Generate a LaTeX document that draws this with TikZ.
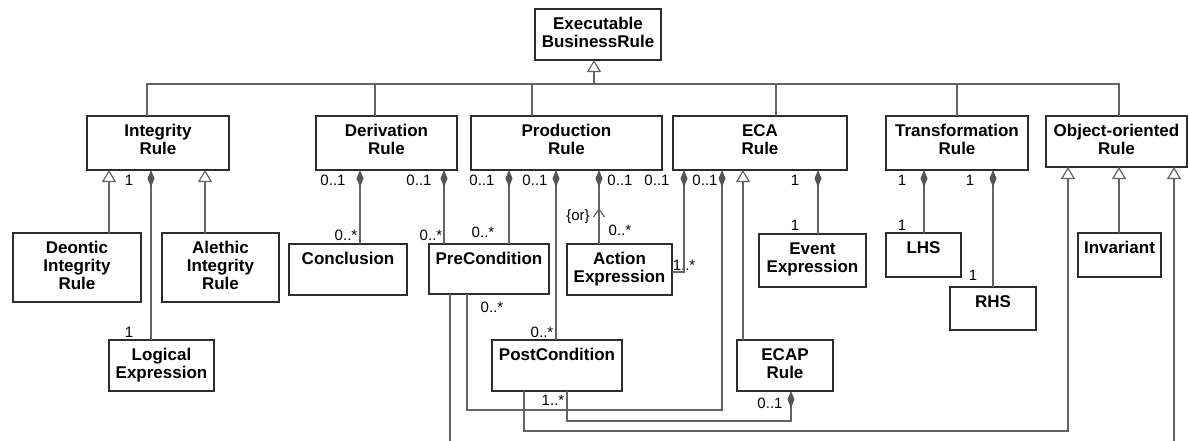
\documentclass[tikz,border=0pt]{standalone}
\usepackage{fontspec}
\setmainfont{Liberation Sans}
\usetikzlibrary{arrows.meta,calc}

\definecolor{edge}{RGB}{45,45,45}
\definecolor{wire}{RGB}{100,100,100}
\definecolor{dia}{RGB}{85,85,85}

\tikzset{
  cls/.style={draw=edge, line width=1.3pt, fill=white, inner sep=0pt, outer sep=0pt, anchor=north west},
  ttl/.style={font=\bfseries\fontsize{17}{18}\selectfont, align=center, anchor=base, inner sep=0pt},
  mult/.style={font=\fontsize{15}{17}\selectfont, anchor=base, inner sep=0pt},
  wire/.style={draw=wire, line width=1.2pt},
  comp/.style={wire, {Diamond[length=17pt,width=7pt,fill=dia,color=dia]}-},
  gen/.style={wire, -{Triangle[open,length=12pt,width=14pt,fill=white]}},
  nav/.style={wire, -{Straight Barb[length=8pt,width=11pt]}},
}

% class box: name, left, top, right, bottom, number of title lines, title
% (the base of a multi-line title is its last line)
\newcommand\umlclass[7]{%
  \node[cls, minimum width={#4-#2}, minimum height={#5-#3}] (#1) at (#2,#3) {};
  \node[ttl] (#1-t) at ($(#1.north)+(0,{2+18*#6})$) {#7};
}

\begin{document}
\begin{tikzpicture}[x=1pt, y=-1pt]
\useasboundingbox (0,0) rectangle (1189,440);
\clip (0,0) rectangle (1189,440);
\fill[white] (0,0) rectangle (1189,440);

% classes
\umlclass{ebr}{535}{9}{661}{60}{2}{Executable\\BusinessRule}
\umlclass{integ}{87}{116}{229}{170}{2}{Integrity\\Rule}
\umlclass{deriv}{316}{116}{457}{170}{2}{Derivation\\Rule}
\umlclass{prod}{471}{116}{662}{170}{2}{Production\\Rule}
\umlclass{eca}{673}{116}{847}{170}{2}{ECA\\Rule}
\umlclass{trans}{886}{116}{1028}{170}{2}{Transformation\\Rule}
\umlclass{oo}{1046}{116}{1187}{167}{2}{Object-oriented\\Rule}
\umlclass{deon}{13}{233}{141}{302}{3}{Deontic\\Integrity\\Rule}
\umlclass{aleth}{162}{233}{279}{302}{3}{Alethic\\Integrity\\Rule}
\umlclass{logic}{109}{340}{214}{391}{2}{Logical\\Expression}
\umlclass{concl}{289}{244}{407}{295}{1}{Conclusion}
\umlclass{pre}{429}{244}{549}{294}{1}{PreCondition}
\umlclass{act}{567}{244}{672}{295}{2}{Action\\Expression}
\umlclass{evt}{759}{234}{866}{287}{2}{Event\\Expression}
\umlclass{lhs}{886}{233}{961}{277}{1}{LHS}
\umlclass{rhs}{950}{287}{1036}{330}{1}{RHS}
\umlclass{inv}{1078}{233}{1161}{277}{1}{Invariant}
\umlclass{post}{492}{340}{622}{391}{1}{PostCondition}
\umlclass{ecap}{737}{340}{833}{391}{2}{ECAP\\Rule}

% multiplicities and constraint
\foreach \x/\y/\t [count=\i] in {
  129/185/1, 129/337/1,
  333/185/0..1, 346/240/0..*, 419/185/0..1, 431/240/0..*,
  482/185/0..1, 483/237/0..*, 535/185/0..1, 542/337/0..*, 492/312/0..*,
  620/185/0..1, 620/235/0..*, 657/185/0..1, 705/185/0..1, 684/270/1..*,
  795/185/1, 795/230/1, 770/408/0..1, 553/405/1..*,
  902/185/1, 970/185/1, 902/230/1, 973/280/1}
  \node[mult] (m\i) at (\x,\y) {\t};
\node[mult] (orc) at (578,220) {\{or\}};

% generalization tree under ExecutableBusinessRule
\coordinate (bus) at (594,84);
\draw[gen] (bus) -- (ebr.south -| bus);
\foreach \n/\x in {integ/147, deriv/375, prod/532, eca/776, trans/957, oo/1119}
  \draw[wire] (\n.north -| \x,0) |- (bus);

% Integrity rule
\draw[gen] (deon.north -| 109,0) -- (integ.south -| 109,0);
\draw[gen] (aleth.north -| 205,0) -- (integ.south -| 205,0);
\draw[comp] (integ.south -| 151,0) -- (logic.north -| 151,0);

% Derivation rule
\draw[comp] (deriv.south -| 360,0) -- (concl.north -| 360,0);
\draw[comp] (deriv.south -| 444,0) -- (pre.north -| 444,0);

% Production rule
\draw[comp] (prod.south -| 509,0) -- (pre.north -| 509,0);
\draw[comp] (prod.south -| 556,0) -- (post.north -| 556,0);
\draw[comp] (prod.south -| 599,0) -- (act.north -| 599,0);
\coordinate (ortip) at (599,208);
\draw[nav] (act.north -| ortip) -- (ortip);

% ECA rule
\draw[comp] (eca.south -| 684,0) |- (act.east |- 0,272);
\coordinate (e1) at (722,410);
\draw[comp] (eca.south -| e1) -- (e1) -| (pre.south -| 467,0);
\draw[gen] (ecap.north -| 743,0) -- (eca.south -| 743,0);
\draw[comp] (eca.south -| 818,0) -- (evt.north -| 818,0);

% ECAP rule
\coordinate (e2) at (791,421);
\draw[comp] (ecap.south -| e2) -- (e2) -| (post.south -| 567,0);

% links to Object-oriented rule
\coordinate (p1) at (524,431);
\draw[gen] (post.south -| p1) -- (p1) -| (oo.south -| 1068,0);
\coordinate (p2) at (450,452);
\draw[gen] (pre.south -| p2) -- (p2) -| (oo.south -| 1174,0);
\draw[gen] (inv.north -| 1119,0) -- (oo.south -| 1119,0);

% Transformation rule
\draw[comp] (trans.south -| 924,0) -- (lhs.north -| 924,0);
\draw[comp] (trans.south -| 993,0) -- (rhs.north -| 993,0);
\end{tikzpicture}
\end{document}
